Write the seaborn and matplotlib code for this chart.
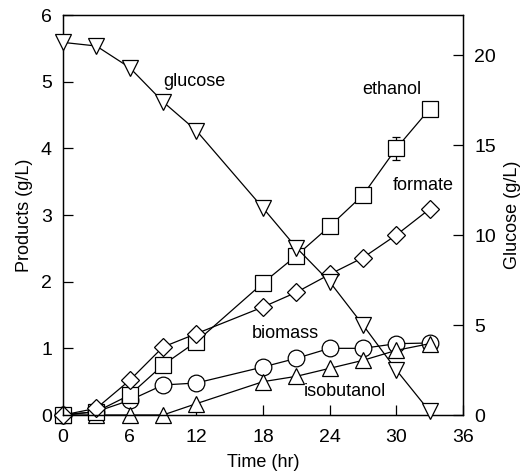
import matplotlib
matplotlib.use("Agg")
import matplotlib.pyplot as plt
import seaborn as sns
import numpy as np

sns.set_style("ticks")
plt.rcParams['font.family'] = ['Liberation Sans', 'DejaVu Sans']
plt.rcParams['text.color'] = 'black'
plt.rcParams['axes.labelcolor'] = 'black'

time = [0, 3, 6, 9, 12, 18, 21, 24, 27, 30, 33]
ethanol = [0.0, 0.05, 0.3, 0.75, 1.1, 1.98, 2.39, 2.83, 3.3, 4.0, 4.59]
ethanol_err = [0, 0, 0, 0, 0, 0, 0, 0, 0, 0.17, 0]
formate = [0.0, 0.1, 0.52, 1.02, 1.22, 1.62, 1.84, 2.11, 2.36, 2.7, 3.09]
biomass = [0.0, 0.05, 0.22, 0.45, 0.48, 0.72, 0.85, 1.0, 1.0, 1.07, 1.08]
isobutanol = [0.0, 0.0, 0.0, 0.0, 0.17, 0.5, 0.58, 0.7, 0.82, 0.97, 1.07]
glucose = [20.7, 20.5, 19.3, 17.4, 15.8, 11.5, 9.3, 7.4, 5.0, 2.5, 0.2]

x_ticks = [0, 6, 12, 18, 24, 30, 36]
left_ticks = [0, 1, 2, 3, 4, 5, 6]
right_ticks = [0, 5, 10, 15, 20]

fig = plt.figure(figsize=(5.23, 4.74), dpi=100)
ax = fig.add_axes([63/523, 1-415/474, 400/523, 400/474])
ax2 = ax.twinx()

common = dict(color='black', linewidth=0.9, markerfacecolor='white',
              markeredgecolor='black', markeredgewidth=0.9)

# glucose on right axis
sns.lineplot(x=time, y=glucose, ax=ax2, marker='v', markersize=12, zorder=3, **common)

# products on left axis
sns.lineplot(x=time, y=biomass, ax=ax, marker='o', markersize=12, **common)
sns.lineplot(x=time, y=isobutanol, ax=ax, marker='^', markersize=12, **common)
ax.errorbar(time, ethanol, yerr=ethanol_err, fmt='none', ecolor='black',
            elinewidth=0.9, capsize=3, capthick=0.9)
sns.lineplot(x=time, y=ethanol, ax=ax, marker='s', markersize=11, **common)
sns.lineplot(x=time, y=formate, ax=ax, marker='D', markersize=9, **common)

ax.set_xlim(0, 36)
ax.set_ylim(0, 6)
ax2.set_ylim(0, 400/18)
ax.set_xticks(x_ticks)
ax.set_yticks(left_ticks)
ax2.set_yticks(right_ticks)

for a in (ax, ax2):
    a.tick_params(direction='in', length=7, width=0.9, labelsize=14,
                  colors='black', pad=8)
    for s in a.spines.values():
        s.set_linewidth(0.9)
        s.set_color('black')
ax.tick_params(axis='x', pad=10)

ax.set_xlabel('Time (hr)', fontsize=13, labelpad=6)
ax.set_ylabel('Products (g/L)', fontsize=13, labelpad=6)
ax2.set_ylabel('Glucose (g/L)', fontsize=13, rotation=90, labelpad=6)

ax.text(11.8, 5.0, 'glucose', fontsize=13, ha='center', va='center')
ax.text(29.6, 4.89, 'ethanol', fontsize=13, ha='center', va='center')
ax.text(32.4, 3.45, 'formate', fontsize=13, ha='center', va='center')
ax.text(20.0, 1.23, 'biomass', fontsize=13, ha='center', va='center')
ax.text(25.4, 0.35, 'isobutanol', fontsize=13, ha='center', va='center')

for a in (ax, ax2):
    for ln in a.lines:
        ln.set_clip_on(False)

fig.savefig('out.png', dpi=100)
